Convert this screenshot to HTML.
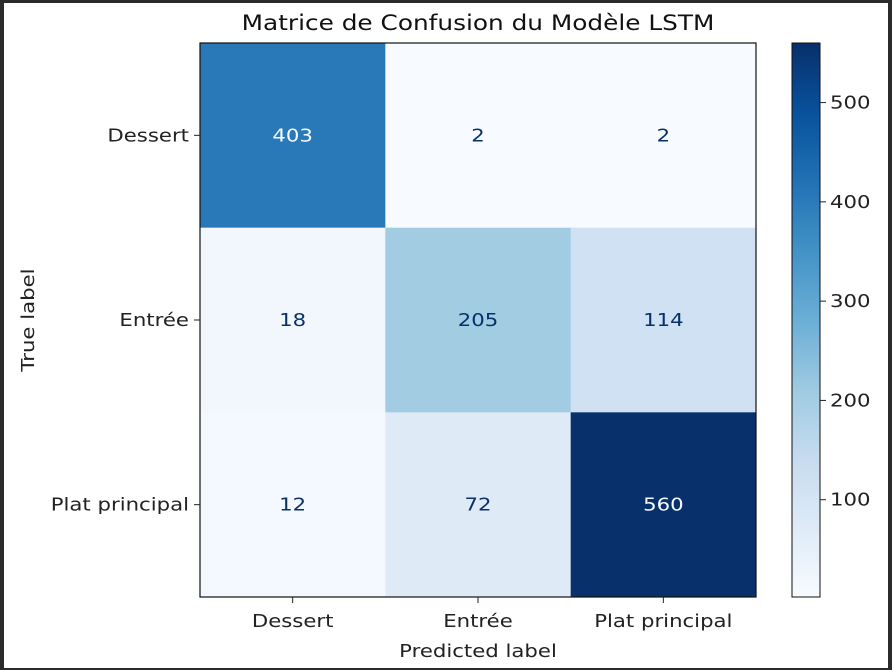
<!DOCTYPE html>
<html><head><meta charset="utf-8"><style>
body{margin:0;background:#2b2b2b;}
svg{display:block;font-family:"DejaVu Sans","Liberation Sans",sans-serif;}
</style></head><body>
<svg id="chart" width="892" height="670">
<rect x="0" y="0" width="892" height="670" fill="#2b2b2b"/>
<rect x="4" y="3" width="884" height="665" fill="#ffffff"/>
<defs><linearGradient id="cbg" x1="0" y1="1" x2="0" y2="0"></linearGradient></defs>
<g id="cells"></g>
<text transform="translate(478,30) scale(1.18,1)" text-anchor="middle" font-size="21" fill="#111">Matrice de Confusion du Modèle LSTM</text>
<text transform="translate(478,657) scale(1.18,1)" text-anchor="middle" font-size="18" fill="#222">Predicted label</text>
<text transform="translate(34,320) rotate(-90) scale(1.18,1)" text-anchor="middle" font-size="18" fill="#222">True label</text>
</svg>
<script>
const categories = ["Dessert","Entrée","Plat principal"];
const row0 = [403,2,2];
const row1 = [18,205,114];
const row2 = [12,72,560];
const cbTicks = [100,200,300,400,500];
const matrix=[row0,row1,row2];
const NS="http://www.w3.org/2000/svg";
const svg=document.getElementById('chart');
const g=document.getElementById('cells');
const PX=200,PY=43,PW=556,PH=554,FS=18,SX=1.18;
const all=matrix.flat();const vmin=Math.min(...all),vmax=Math.max(...all);
const stops=[[247,251,255],[222,235,247],[198,219,239],[158,202,225],[107,174,214],[66,146,198],[33,113,181],[8,81,156],[8,48,107]];
function blues(t){t=Math.max(0,Math.min(1,t));const p=t*8,i=Math.min(7,Math.floor(p)),f=p-i;const a=stops[i],b=stops[i+1];return `rgb(${a.map((v,k)=>Math.round(v+(b[k]-v)*f)).join(',')})`;}
function mk(tag,attrs){const e=document.createElementNS(NS,tag);for(const k in attrs)e.setAttribute(k,attrs[k]);return e;}
function txt(x,y,anchor,fill,content){const t=mk('text',{transform:`translate(${x},${y}) scale(${SX},1)`,'text-anchor':anchor,'font-size':FS,fill:fill});t.textContent=content;return t;}
const n=categories.length,cw=PW/n,ch=PH/n;
const xs=i=>PX+i*cw, ys=j=>PY+j*ch;
matrix.forEach((row,j)=>row.forEach((v,i)=>{
 const r=mk('rect',{x:xs(i),y:ys(j),width:cw+0.5,height:ch+0.5,fill:blues((v-vmin)/(vmax-vmin))});
 
 
 g.appendChild(r);
 const t=txt(xs(i)+cw/2,ys(j)+ch/2+6,'middle',v>(vmin+vmax)/2?'#f7fbff':'#08306b',v);
 
 
 svg.appendChild(t);
}));
const fr=mk('rect',{x:PX,y:PY,width:PW,height:PH,fill:'none',stroke:'#111','stroke-width':1.2});


svg.appendChild(fr);
categories.forEach((c,i)=>{
 const tx=xs(i)+cw/2;
 const tk=mk('line',{x1:tx,x2:tx,y1:PY+PH,y2:PY+PH+6,stroke:'#222'});
 
 
 svg.appendChild(tk);
 const t=txt(tx,PY+PH+30,'middle','#222',c);
 
 
 svg.appendChild(t);
 const ty=ys(i)+ch/2;
 const tk2=mk('line',{x1:PX-6,x2:PX,y1:ty,y2:ty,stroke:'#222'});
 
 
 svg.appendChild(tk2);
 const t2=txt(PX-11,ty+6,'end','#222',c);
 
 
 svg.appendChild(t2);
});
const grad=document.getElementById('cbg');
stops.forEach((s,i)=>{const st=mk('stop',{offset:i/8,'stop-color':`rgb(${s.join(',')})`});grad.appendChild(st);});
const CX=792,CW=28;
const cb=mk('rect',{x:CX,y:PY,width:CW,height:PH,fill:'url(#cbg)',stroke:'#111','stroke-width':1});


svg.appendChild(cb);
const cy=v=>PY+PH-(v-vmin)/(vmax-vmin)*PH;
cbTicks.forEach(v=>{
 const l=mk('line',{x1:CX+CW,x2:CX+CW+6,y1:cy(v),y2:cy(v),stroke:'#222'});
 
 
 svg.appendChild(l);
 const t=txt(CX+CW+10,cy(v)+6,'start','#222',v);
 
 
 svg.appendChild(t);
});
</script>
</body></html>
